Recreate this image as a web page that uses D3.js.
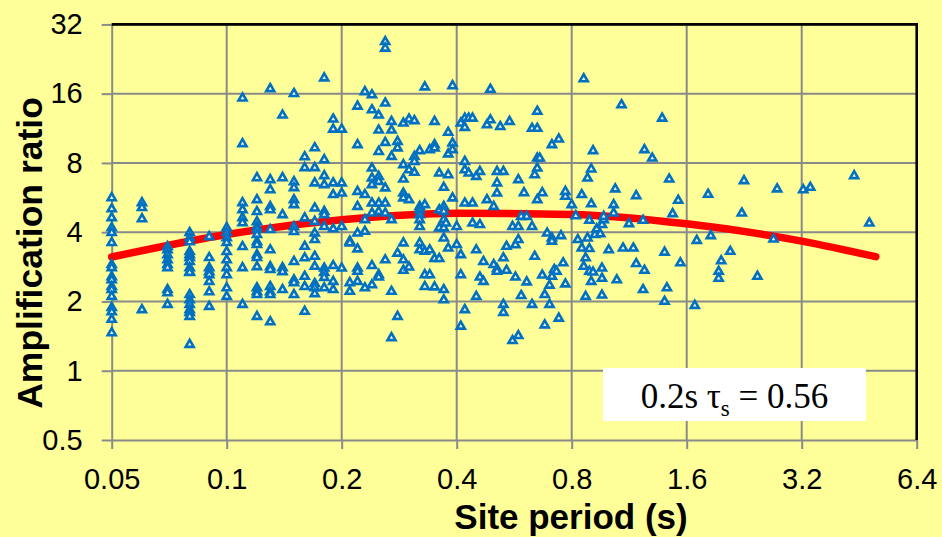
<!DOCTYPE html>
<html>
<head>
<meta charset="utf-8">
<script src="https://cdn.jsdelivr.net/npm/d3@7/dist/d3.min.js"></script>
<style>
  html, body { margin: 0; padding: 0; background: #FFFF99; }
  svg { display: block; }
</style>
</head>
<body>
<svg id="chart" width="942" height="537"></svg>
<script>
// ---- Data ----
const xTickValues = [0.05, 0.1, 0.2, 0.4, 0.8, 1.6, 3.2, 6.4];
const yTickValues = [0.5, 1, 2, 4, 8, 16, 32];

// Site periods (s) of each column of observations
const colPeriods = [
  0.05, 0.06, 0.07, 0.08, 0.09, 0.10, 0.11, 0.12, 0.13, 0.14,
  0.15, 0.16, 0.17, 0.18, 0.19, 0.20, 0.21, 0.22, 0.23, 0.24,
  0.25, 0.26, 0.27, 0.28, 0.29, 0.30, 0.31, 0.32, 0.33, 0.34,
  0.35, 0.36, 0.37, 0.375, 0.38, 0.39, 0.40, 0.41, 0.42, 0.43,
  0.44, 0.45, 0.46, 0.47, 0.48, 0.49, 0.50, 0.51, 0.52, 0.53,
  0.54, 0.55, 0.56, 0.57, 0.58, 0.59, 0.60, 0.61, 0.63, 0.64,
  0.65, 0.66, 0.67, 0.68, 0.69, 0.70, 0.71, 0.72, 0.73, 0.74,
  0.75, 0.76, 0.77, 0.80, 0.82, 0.83, 0.85, 0.86, 0.87, 0.88,
  0.89, 0.90, 0.91, 0.92, 0.93, 0.95, 0.96, 0.97, 1.00, 1.03,
  1.04, 1.05, 1.08, 1.09, 1.13, 1.16, 1.18, 1.23, 1.24, 1.30,
  1.38, 1.40, 1.42, 1.44, 1.47, 1.52, 1.54, 1.68, 1.70, 1.82,
  1.85, 1.94, 1.97, 2.08, 2.23, 2.26, 2.45, 2.70, 2.76, 3.23,
  3.37, 4.39, 4.81
];
// Amplification ratios observed at each of those periods
const colRatios = [
  [5.64,5.05,4.62,4.18,3.98,3.60,2.89,2.80,2.56,2.48,2.32,2.25,2.10,1.88,1.80,1.67,1.46],
  [5.37,5.11,4.57,1.84],
  [3.46,3.35,3.19,3.03,2.89,2.80,2.25,2.18,1.94],
  [3.98,3.78,3.63,3.29,3.19,3.10,2.98,2.80,2.69,2.67,2.14,2.03,1.94,1.84,1.79,1.72,1.30],
  [3.82,3.10,2.80,2.69,2.61,2.44,2.20,1.90],
  [4.18,3.98,3.78,3.60,3.29,3.03,2.80,2.61,2.29,2.10],
  [15.3,9.69,5.37,5.00,4.62,4.39,3.46,2.80,1.94],
  [6.89,5.53,4.91,4.44,4.22,4.10,3.90,3.63,3.53,3.19,3.10,2.83,2.29,2.20,2.14,1.72],
  [16.8,6.76,6.11,5.16,5.00,4.10,3.35,2.83,2.75,2.32,2.20,2.14,1.63],
  [12.9,6.89,4.76,2.80,2.69,2.25],
  [16.0,6.62,6.24,5.53,5.26,4.22,4.02,2.98,2.48,2.41,2.14],
  [8.50,7.62,4.61,3.47,3.09,2.57,2.32,1.81],
  [9.30,7.62,6.54,5.09,4.45,3.96,3.71,3.14,2.84,2.39,2.29,2.16],
  [18.7,8.25,7.03,6.43,4.92,4.76,4.23,2.79,2.67,2.54,2.29],
  [12.4,11.2,6.54,5.82,4.13,2.86,2.44,2.25],
  [11.2,6.54,5.91,4.23,2.79],
  [3.65,3.59,2.41,2.21],
  [14.1,9.59,6.01,5.17,3.96,3.38,2.79,2.70,2.44],
  [16.3,5.82,4.53,4.03,2.29],
  [15.8,13.6,7.59,6.87,6.43,5.35,4.84,2.86,2.36],
  [12.9,11.1,8.96,6.98,6.64,5.35,4.92,2.61,2.55],
  [26.9,25.2,14.55,9.81,6.22,5.35,4.84,3.03],
  [12.1,11.1,8.53,4.53,2.21,1.39],
  [9.91,9.28,3.24,1.72],
  [11.9,7.85,6.80,5.91,5.63,3.59,3.03,2.73],
  [12.4,7.46,5.53,2.82],
  [12.2,8.53,8.11,7.27],
  [9.03,5.17,5.00,4.76,4.53,4.23,3.59,3.35],
  [17.1,5.26,3.30,2.61,2.32],
  [9.12,3.35,2.61],
  [12.1,9.59,9.28,3.07,2.31],
  [7.22,5.00,4.17,3.07],
  [6.26,5.17,4.92,4.53,4.17,3.77,2.25,2.03],
  [4.38],
  [10.85,8.74,7.10,3.41],
  [17.3,9.75,9.12,5.63],
  [4.23,3.53],
  [11.9,3.19,2.61,1.56],
  [12.5,11.4,8.11,7.46,5.35,1.84],
  [12.5,7.22],
  [12.5,5.35,4.38],
  [6.98,3.35,2.10],
  [7.34,4.31,2.55],
  [2.98,2.44],
  [11.7,5.53],
  [16.7,12.3],
  [5.17,2.89],
  [7.34,6.54,5.91,2.77,2.70],
  [11.5],
  [7.34,3.09,1.94,1.79],
  [3.47,2.73],
  [12.1],
  [4.23,1.35],
  [3.52,2.55],
  [6.76,4.23,3.71,1.42],
  [4.68,2.12],
  [5.93],
  [4.68,2.43],
  [11.3,4.23,1.94],
  [7.10,3.14],
  [11.3,13.4,8.39,7.59,5.53],
  [8.39],
  [5.93,2.60],
  [2.14,1.58],
  [3.96],
  [2.35,1.94],
  [9.59,3.77,3.65,2.57],
  [2.75],
  [2.70],
  [10.15,1.69],
  [3.86],
  [2.94],
  [5.72,6.01,2.38],
  [5.26],
  [4.71],
  [3.71],
  [5.82,3.41],
  [18.55,2.84],
  [3.09,2.10],
  [6.87,3.77],
  [4.50,3.39,2.70],
  [7.52,5.31,2.44],
  [9.03,2.68],
  [3.90],
  [4.13],
  [3.93],
  [4.31,2.79,2.52,2.13],
  [4.53,4.68],
  [3.35],
  [5.26,4.84],
  [6.16],
  [2.48],
  [14.3],
  [3.41],
  [4.35],
  [3.41],
  [5.76,2.92],
  [4.50,2.25],
  [9.12,2.73],
  [8.39],
  [12.5],
  [3.27,2.00],
  [2.29],
  [6.80],
  [4.81],
  [5.50],
  [2.94],
  [1.92],
  [3.68],
  [5.84],
  [3.86],
  [2.70,2.52],
  [3.00],
  [3.30],
  [4.84],
  [6.69],
  [2.57],
  [3.73],
  [6.16],
  [6.11],
  [6.26],
  [7.03],
  [4.38]
];

// Fitted median curve
const curvePeriods = [0.05, 0.1, 0.2, 0.4, 0.8, 1.6, 3.2, 5.0];
const curveRatios  = [3.12, 3.91, 4.53, 4.84, 4.78, 4.35, 3.66, 3.13];

const xTitle = "Site period (s)";
const yTitle = "Amplification ratio";

// ---- Drawing ----
const svg = d3.select("#chart");
const W = 942, H = 537;
const X0 = 111.7, X1 = 916.7, Y0 = 440, Y1 = 24.4;
const GRID = "#8a8a8a";
const BLUE = "#0070C0";

svg.append("rect").attr("width", W).attr("height", H).attr("fill", "#FFFF99");

const x = d3.scaleLog().base(2).domain([0.05, 6.4]).range([X0, X1]);
const y = d3.scaleLog().base(2).domain([0.5, 32]).range([Y0, Y1]);

// grid lines
svg.append("g").selectAll("line").data(yTickValues.slice(1)).join("line")
  .attr("x1", X0).attr("x2", X1)
  .attr("y1", d => y(d)).attr("y2", d => y(d))
  .attr("stroke", GRID).attr("stroke-width", 2);
svg.append("g").selectAll("line").data(xTickValues.slice(1, -1)).join("line")
  .attr("x1", d => x(d)).attr("x2", d => x(d))
  .attr("y1", Y0).attr("y2", Y1)
  .attr("stroke", GRID).attr("stroke-width", 2);

// axes
const fmt = d => String(d);
const yAxis = svg.append("g").attr("transform", `translate(${X0},0)`)
  .call(d3.axisLeft(y).tickValues(yTickValues).tickFormat(fmt).tickSize(10).tickSizeOuter(0).tickPadding(19));
const xAxis = svg.append("g").attr("transform", `translate(0,${Y0})`)
  .call(d3.axisBottom(x).tickValues(xTickValues).tickFormat(fmt).tickSize(9).tickSizeOuter(0).tickPadding(19));
[yAxis, xAxis].forEach(g => {
  g.select(".domain").attr("stroke", GRID).attr("stroke-width", 2);
  g.selectAll(".tick line").attr("stroke", GRID).attr("stroke-width", 2);
  g.selectAll(".tick text")
    .attr("fill", "#000")
    .style("font-family", "'Liberation Sans', Arial, sans-serif")
    .style("font-size", "29px");
});

// top & right borders (black)
svg.append("path")
  .attr("d", `M${X0},${Y1}H${X1}V${Y0}`)
  .attr("fill", "none").attr("stroke", "#000").attr("stroke-width", 2.6);

// curve
const line = d3.line()
  .x((d, i) => x(curvePeriods[i]))
  .y((d, i) => y(curveRatios[i]))
  .curve(d3.curveMonotoneX);
svg.append("path")
  .datum(curvePeriods)
  .attr("d", line)
  .attr("fill", "none")
  .attr("stroke", "#FF0000")
  .attr("stroke-width", 7.5)
  .attr("stroke-linecap", "round");

// points
const pts = [];
colPeriods.forEach((p, i) => colRatios[i].forEach(r => pts.push([p, r])));
const tri = d3.symbol().type(d3.symbolTriangle).size(28);
svg.append("g").selectAll("path").data(pts).join("path")
  .attr("d", tri)
  .attr("transform", d => `translate(${x(d[0])},${y(d[1])})`)
  .attr("fill", "#f4f8ff")
  .attr("stroke", BLUE)
  .attr("stroke-width", 2.6)
  .attr("stroke-linejoin", "miter");

// annotation box
svg.append("rect").attr("x", 603).attr("y", 368).attr("width", 263).attr("height", 53).attr("fill", "#fff");
const ann = svg.append("text")
  .attr("x", 734.5).attr("y", 408)
  .attr("text-anchor", "middle")
  .style("font-family", "'Liberation Serif', 'Times New Roman', serif")
  .style("font-size", "35px")
  .attr("fill", "#000");
ann.append("tspan").text("0.2s \u03C4");
ann.append("tspan").attr("dy", 8).style("font-size", "23px").text("s");
ann.append("tspan").attr("dy", -8).text(" = 0.56");

// axis titles
svg.append("text")
  .attr("x", 571).attr("y", 529)
  .attr("text-anchor", "middle")
  .style("font-family", "'Liberation Sans', Arial, sans-serif")
  .style("font-size", "35px").style("font-weight", "bold")
  .text(xTitle);
svg.append("text")
  .attr("transform", "translate(41.5,253) rotate(-90)")
  .attr("text-anchor", "middle")
  .style("font-family", "'Liberation Sans', Arial, sans-serif")
  .style("font-size", "35.5px").style("font-weight", "bold")
  .text(yTitle);
</script>
</body>
</html>
